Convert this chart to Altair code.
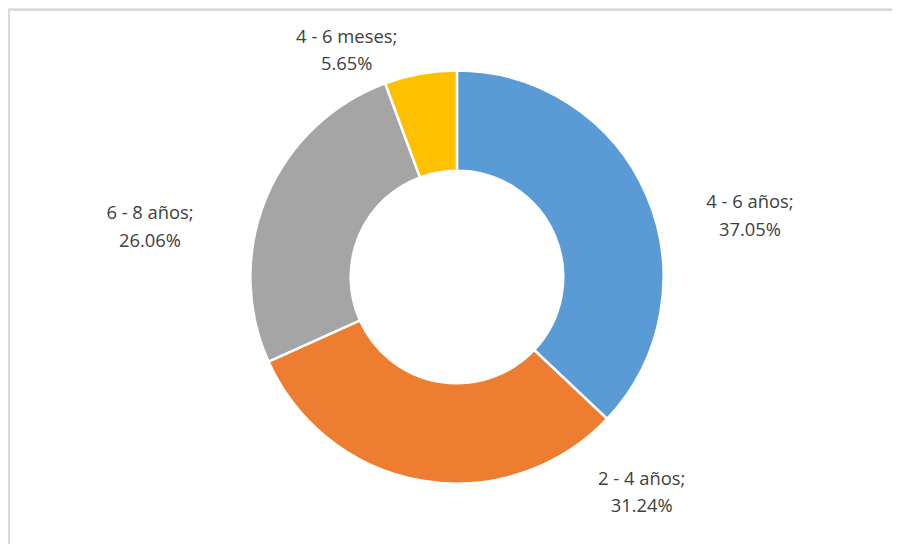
import altair as alt
import pandas as pd

categories = ["4 - 6 años", "2 - 4 años", "6 - 8 años", "4 - 6 meses"]
values = [37.05, 31.24, 26.06, 5.65]
colors = ["#5B9BD5", "#ED7D31", "#A5A5A5", "#FFC000"]

df = pd.DataFrame({
    "categoria": categories,
    "valor": values,
    "orden": list(range(len(categories))),
})
df["etiqueta"] = [f"{c};\n{v:.2f}%" for c, v in zip(categories, values)]

# label placement (layout, pixels relative to the chart origin; y = first line)
label_pos = {
    "4 - 6 años": (747, 194),
    "2 - 4 años": (638, 472),
    "6 - 8 años": (143, 205),
    "4 - 6 meses": (341, 27),
}
df["lx"] = [label_pos[c][0] for c in categories]
df["ly"] = [label_pos[c][1] for c in categories]

W, H = 890, 536
CX, CY = 452, 269

base = alt.Chart(df)

donut = base.mark_arc(
    outerRadius=208, innerRadius=107, stroke="white", strokeWidth=2.5
).encode(
    theta=alt.Theta("valor:Q", stack=True),
    order=alt.Order("orden:Q"),
    color=alt.Color("categoria:N", scale=alt.Scale(domain=categories, range=colors), legend=None),
    x=alt.value(CX),
    y=alt.value(CY),
)

labels = base.mark_text(
    font="Open Sans", fontSize=18.5, color="#404040", lineBreak="\n", lineHeight=28,
    align="center", baseline="middle",
).encode(
    x=alt.X("lx:Q", scale=None),
    y=alt.Y("ly:Q", scale=None),
    text="etiqueta:N",
)

frame_top = alt.Chart(df).mark_rule(color="#d9d9d9", strokeWidth=2).encode(
    x=alt.value(0), x2=alt.value(W + 20), y=alt.value(0)
)
frame_left = alt.Chart(df).mark_rule(color="#d9d9d9", strokeWidth=2).encode(
    x=alt.value(1), y=alt.value(0), y2=alt.value(H + 20)
)

chart = alt.layer(donut, labels, frame_top, frame_left).properties(
    width=W, height=H, padding=0, autosize=alt.AutoSizeParams(type="none")
).configure_view(stroke=None)

chart.save("out.html", embed_options={"renderer": "svg", "actions": False})
